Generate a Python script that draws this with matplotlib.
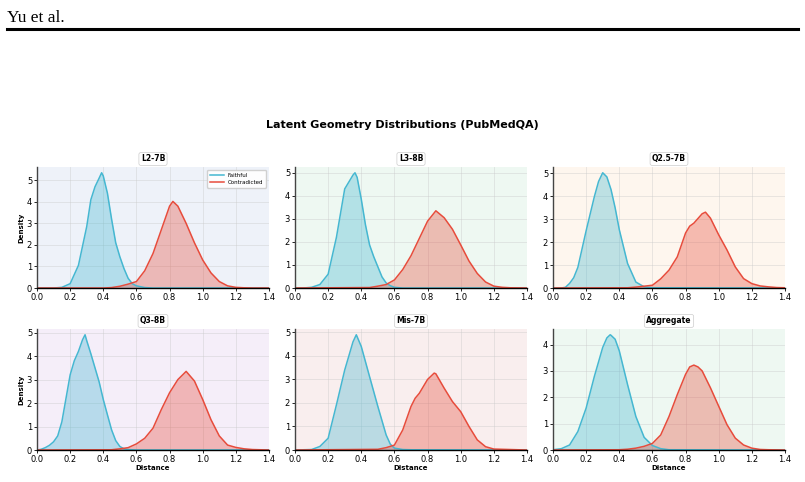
import matplotlib
matplotlib.use("Agg")
import matplotlib.pyplot as plt
from matplotlib.lines import Line2D

# density curves (distance, density)
l2_faith_x = [0.0, 0.10, 0.15, 0.20, 0.25, 0.30, 0.325, 0.35, 0.375, 0.39, 0.40, 0.425, 0.45, 0.475, 0.50, 0.525, 0.55, 0.575, 0.60, 0.65, 0.70, 1.4]
l2_faith_y = [0.0, 0.0, 0.03, 0.2, 1.05, 2.85, 4.1, 4.7, 5.1, 5.35, 5.2, 4.4, 3.2, 2.1, 1.45, 0.9, 0.45, 0.2, 0.1, 0.02, 0.0, 0.0]
l2_contra_x = [0.0, 0.40, 0.45, 0.50, 0.55, 0.60, 0.65, 0.70, 0.75, 0.80, 0.82, 0.85, 0.90, 0.95, 1.00, 1.05, 1.10, 1.15, 1.20, 1.25, 1.30, 1.4]
l2_contra_y = [0.0, 0.0, 0.02, 0.08, 0.18, 0.3, 0.8, 1.6, 2.7, 3.8, 4.02, 3.8, 3.0, 2.1, 1.3, 0.7, 0.3, 0.1, 0.03, 0.01, 0.0, 0.0]

l3_faith_x = [0.0, 0.05, 0.10, 0.15, 0.20, 0.25, 0.30, 0.325, 0.35, 0.362, 0.375, 0.40, 0.425, 0.45, 0.475, 0.50, 0.525, 0.55, 0.575, 0.60, 0.65, 1.4]
l3_faith_y = [0.0, 0.0, 0.03, 0.15, 0.6, 2.2, 4.3, 4.6, 4.9, 5.0, 4.8, 3.85, 2.75, 1.87, 1.36, 0.92, 0.48, 0.22, 0.1, 0.03, 0.0, 0.0]
l3_contra_x = [0.0, 0.45, 0.50, 0.55, 0.60, 0.65, 0.70, 0.75, 0.80, 0.85, 0.90, 0.95, 1.00, 1.05, 1.10, 1.15, 1.20, 1.25, 1.30, 1.4]
l3_contra_y = [0.0, 0.02, 0.08, 0.15, 0.35, 0.8, 1.4, 2.15, 2.9, 3.35, 3.05, 2.55, 1.87, 1.17, 0.63, 0.26, 0.08, 0.03, 0.01, 0.0]

q25_faith_x = [0.0, 0.05, 0.075, 0.10, 0.125, 0.15, 0.20, 0.25, 0.275, 0.30, 0.325, 0.35, 0.375, 0.40, 0.45, 0.50, 0.55, 0.60, 1.4]
q25_faith_y = [0.0, 0.0, 0.03, 0.2, 0.45, 0.9, 2.5, 4.0, 4.65, 5.03, 4.85, 4.3, 3.5, 2.55, 1.07, 0.26, 0.05, 0.01, 0.0]
q25_contra_x = [0.0, 0.45, 0.50, 0.55, 0.60, 0.65, 0.70, 0.75, 0.80, 0.825, 0.85, 0.90, 0.92, 0.95, 1.00, 1.05, 1.10, 1.15, 1.20, 1.25, 1.30, 1.35, 1.4]
q25_contra_y = [0.0, 0.01, 0.04, 0.08, 0.12, 0.4, 0.78, 1.36, 2.4, 2.7, 2.83, 3.24, 3.31, 3.05, 2.32, 1.66, 0.92, 0.41, 0.19, 0.09, 0.05, 0.02, 0.01]

q3_faith_x = [0.0, 0.025, 0.05, 0.075, 0.10, 0.125, 0.15, 0.175, 0.20, 0.225, 0.25, 0.275, 0.29, 0.30, 0.325, 0.35, 0.375, 0.40, 0.425, 0.45, 0.475, 0.50, 0.525, 0.55, 0.60, 1.4]
q3_faith_y = [0.0, 0.03, 0.1, 0.2, 0.35, 0.6, 1.2, 2.2, 3.2, 3.8, 4.2, 4.7, 4.91, 4.66, 4.1, 3.5, 2.9, 2.15, 1.5, 0.86, 0.4, 0.15, 0.05, 0.02, 0.0, 0.0]
q3_contra_x = [0.0, 0.45, 0.50, 0.55, 0.60, 0.65, 0.70, 0.75, 0.80, 0.85, 0.90, 0.95, 1.00, 1.05, 1.10, 1.15, 1.20, 1.25, 1.30, 1.35, 1.4]
q3_contra_y = [0.0, 0.01, 0.05, 0.1, 0.26, 0.5, 0.93, 1.72, 2.44, 3.0, 3.35, 2.94, 2.15, 1.29, 0.6, 0.21, 0.11, 0.05, 0.02, 0.01, 0.0]

mis_faith_x = [0.0, 0.10, 0.15, 0.20, 0.25, 0.30, 0.35, 0.37, 0.40, 0.45, 0.50, 0.55, 0.575, 0.60, 0.65, 0.70, 1.4]
mis_faith_y = [0.0, 0.02, 0.15, 0.5, 1.92, 3.4, 4.6, 4.9, 4.4, 3.12, 1.85, 0.64, 0.25, 0.08, 0.02, 0.01, 0.0]
mis_contra_x = [0.0, 0.50, 0.55, 0.60, 0.65, 0.70, 0.725, 0.75, 0.80, 0.84, 0.85, 0.90, 0.95, 1.00, 1.05, 1.10, 1.15, 1.20, 1.25, 1.30, 1.35, 1.4]
mis_contra_y = [0.0, 0.03, 0.1, 0.21, 0.85, 1.85, 2.2, 2.41, 3.0, 3.27, 3.24, 2.63, 2.06, 1.63, 1.0, 0.43, 0.14, 0.04, 0.03, 0.02, 0.01, 0.0]

agg_faith_x = [0.0, 0.05, 0.10, 0.15, 0.20, 0.25, 0.30, 0.325, 0.345, 0.35, 0.375, 0.40, 0.45, 0.50, 0.55, 0.60, 0.65, 0.70, 1.4]
agg_faith_y = [0.01, 0.05, 0.19, 0.7, 1.59, 2.8, 3.89, 4.25, 4.37, 4.35, 4.2, 3.76, 2.48, 1.27, 0.48, 0.17, 0.05, 0.01, 0.0]
agg_contra_x = [0.0, 0.40, 0.45, 0.50, 0.55, 0.60, 0.65, 0.70, 0.75, 0.80, 0.825, 0.85, 0.875, 0.90, 0.95, 1.00, 1.05, 1.10, 1.15, 1.20, 1.25, 1.30, 1.4]
agg_contra_y = [0.0, 0.01, 0.03, 0.07, 0.14, 0.25, 0.57, 1.27, 2.1, 2.87, 3.15, 3.22, 3.15, 3.0, 2.36, 1.66, 0.96, 0.45, 0.19, 0.07, 0.02, 0.01, 0.0]

titles = ["L2-7B", "L3-8B", "Q2.5-7B", "Q3-8B", "Mis-7B", "Aggregate"]
bg_colors = ["#eef2f9", "#eef8f2", "#fef6ee", "#f5eef9", "#f9eeee", "#eef8f2"]

panels = [
    (l2_faith_x, l2_faith_y, l2_contra_x, l2_contra_y),
    (l3_faith_x, l3_faith_y, l3_contra_x, l3_contra_y),
    (q25_faith_x, q25_faith_y, q25_contra_x, q25_contra_y),
    (q3_faith_x, q3_faith_y, q3_contra_x, q3_contra_y),
    (mis_faith_x, mis_faith_y, mis_contra_x, mis_contra_y),
    (agg_faith_x, agg_faith_y, agg_contra_x, agg_contra_y),
]

FAITH = "#45b7d1"
CONTRA = "#e74c3c"

fig = plt.figure(figsize=(8.05, 4.82), dpi=100)

# page header
fig.text(7 / 805, 1 - 22 / 482, "Yu et al.", family="Liberation Serif", fontsize=12.5, va="baseline")
fig.add_artist(Line2D([7 / 805, 798 / 805], [1 - 29 / 482, 1 - 29 / 482], color="black", linewidth=2.2))

fig.text(0.5, 1 - 125 / 482, "Latent Geometry Distributions (PubMedQA)",
         ha="center", va="center", fontsize=8, fontweight="bold")

col_left = [37, 295, 553]
row_bottom = [288, 450]
w, h = 232, 121

for i, (fx, fy, cx, cy) in enumerate(panels):
    r, c = divmod(i, 3)
    ax = fig.add_axes([col_left[c] / 805, 1 - row_bottom[r] / 482, w / 805, h / 482])
    ax.set_facecolor(bg_colors[i])

    ax.fill_between(fx, fy, color=FAITH, alpha=0.35, linewidth=0)
    ax.plot(fx, fy, color=FAITH, linewidth=1.1, label="Faithful")
    ax.fill_between(cx, cy, color=CONTRA, alpha=0.35, linewidth=0)
    ax.plot(cx, cy, color=CONTRA, linewidth=1.1, label="Contradicted")

    ax.set_xlim(0, 1.4)
    ax.set_ylim(0, max(max(fy), max(cy)) * 1.05)
    ax.set_xticks([0.0, 0.2, 0.4, 0.6, 0.8, 1.0, 1.2, 1.4])
    ax.tick_params(labelsize=6, length=2, width=0.6, pad=1.5)
    ax.grid(True, color="#c8c8c8", alpha=0.45, linewidth=0.6)
    ax.set_axisbelow(True)

    for s in ["top", "right"]:
        ax.spines[s].set_visible(False)
    ax.spines["left"].set_color("#444444")
    ax.spines["left"].set_linewidth(1.0)
    ax.spines["bottom"].set_color("black")
    ax.spines["bottom"].set_linewidth(1.0)

    ax.set_title(titles[i], fontsize=5.5, fontweight="bold", pad=4,
                 bbox=dict(boxstyle="round,pad=0.25", facecolor="white", edgecolor="#cccccc", linewidth=0.5))

    if c == 0:
        ax.set_ylabel("Density", fontsize=5, fontweight="bold", labelpad=2)
    if r == 1:
        ax.set_xlabel("Distance", fontsize=5, fontweight="bold", labelpad=1)
    if i == 0:
        ax.legend(loc="upper right", fontsize=4, frameon=True, handlelength=2.5,
                  borderpad=0.5, labelspacing=0.4, fancybox=True, framealpha=0.9)

fig.savefig("out.png", dpi=100)
